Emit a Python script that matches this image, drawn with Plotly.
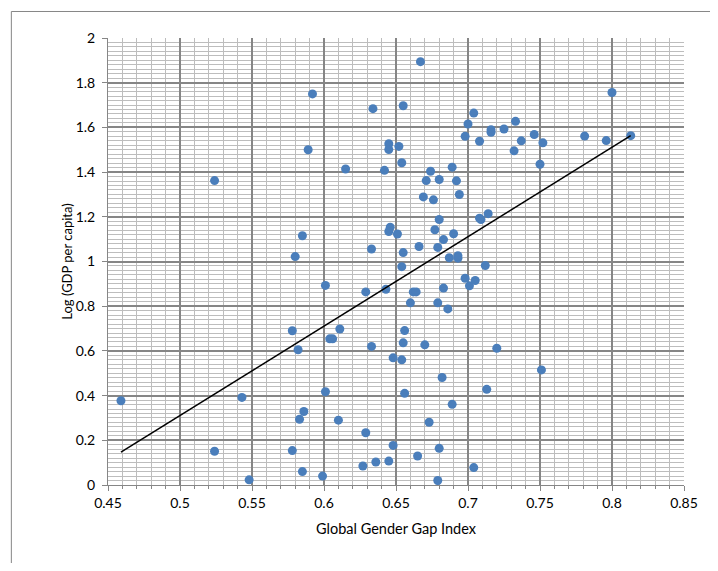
import plotly.graph_objects as go

gggi = [0.459, 0.524, 0.524, 0.543, 0.548, 0.578, 0.578, 0.580, 0.582, 0.583,
        0.585, 0.585, 0.586, 0.589, 0.592, 0.599, 0.601, 0.601, 0.604, 0.606,
        0.610, 0.611, 0.615, 0.627, 0.629, 0.629, 0.633, 0.633, 0.634, 0.636,
        0.642, 0.643, 0.645, 0.645, 0.645, 0.646, 0.645, 0.648, 0.648, 0.651,
        0.652, 0.654, 0.654, 0.655, 0.654, 0.655, 0.655, 0.656, 0.656, 0.660,
        0.662, 0.664, 0.665, 0.667, 0.666, 0.669, 0.671, 0.670, 0.673, 0.674,
        0.676, 0.677, 0.679, 0.679, 0.680, 0.680, 0.680, 0.679, 0.682, 0.683,
        0.683, 0.687, 0.686, 0.689, 0.689, 0.690, 0.692, 0.693, 0.693, 0.694,
        0.698, 0.698, 0.700, 0.701, 0.705, 0.704, 0.704, 0.708, 0.708, 0.709,
        0.712, 0.713, 0.714, 0.716, 0.716, 0.720, 0.725, 0.732, 0.733, 0.737,
        0.746, 0.750, 0.752, 0.751, 0.781, 0.796, 0.800, 0.813]

log_gdp = [0.377, 1.362, 0.151, 0.392, 0.023, 0.154, 0.690, 1.022, 0.605, 0.294,
           1.115, 0.060, 0.329, 1.500, 1.750, 0.040, 0.417, 0.893, 0.654, 0.654,
           0.290, 0.698, 1.414, 0.085, 0.864, 0.234, 1.056, 0.620, 1.684, 0.103,
           1.408, 0.876, 0.107, 1.527, 1.501, 1.153, 1.134, 0.569, 0.177, 1.123,
           1.515, 0.560, 1.442, 1.697, 0.977, 1.040, 0.636, 0.691, 0.410, 0.815,
           0.864, 0.864, 0.130, 1.894, 1.067, 1.289, 1.362, 0.627, 0.281, 1.404,
           1.276, 1.142, 0.815, 1.063, 1.367, 1.188, 0.164, 0.020, 0.481, 1.098,
           0.881, 1.017, 0.788, 1.422, 0.361, 1.124, 1.361, 1.015, 1.026, 1.300,
           0.925, 1.560, 1.615, 0.891, 0.915, 0.078, 1.664, 1.538, 1.194, 1.188,
           0.982, 0.428, 1.214, 1.590, 1.578, 0.612, 1.593, 1.495, 1.627, 1.540,
           1.568, 1.435, 1.531, 0.515, 1.561, 1.541, 1.756, 1.563]

trend_x = [0.459, 0.813]
trend_y = [0.147, 1.563]

x_ticks = [0.45, 0.5, 0.55, 0.6, 0.65, 0.7, 0.75, 0.8, 0.85]
x_tick_labels = ["0.45", "0.5", "0.55", "0.6", "0.65", "0.7", "0.75", "0.8", "0.85"]
y_ticks = [0, 0.2, 0.4, 0.6, 0.8, 1, 1.2, 1.4, 1.6, 1.8, 2]
y_tick_labels = ["0", "0.2", "0.4", "0.6", "0.8", "1", "1.2", "1.4", "1.6", "1.8", "2"]

FONT = "Lato, 'Open Sans', sans-serif"

fig = go.Figure()
fig.add_trace(go.Scatter(
    x=gggi, y=log_gdp, mode="markers",
    marker=dict(size=9, color="#4a7ebb", line=dict(width=0)),
    showlegend=False, hoverinfo="x+y"))
fig.add_trace(go.Scatter(
    x=trend_x, y=trend_y, mode="lines",
    line=dict(color="black", width=1.5),
    showlegend=False, hoverinfo="skip"))

major_col = "#868686"
minor_col = "#bdbdbd"

fig.update_xaxes(
    range=[0.45, 0.85], tickmode="array", tickvals=x_ticks, ticktext=x_tick_labels,
    showgrid=True, gridcolor=major_col, gridwidth=1.5,
    minor=dict(dtick=0.01, tick0=0.45, showgrid=True, gridcolor=minor_col, gridwidth=1,
               ticks="outside", ticklen=3, tickcolor=major_col),
    ticks="outside", ticklen=5, tickcolor=major_col,
    showline=True, linecolor=major_col, linewidth=1,
    zeroline=False,
    tickfont=dict(family=FONT, size=14, color="#000000"),
    title=dict(text="Global Gender Gap Index", font=dict(family=FONT, size=14.5, color="#000000"),
               standoff=14),
)
fig.update_yaxes(
    range=[0, 2], tickmode="array", tickvals=y_ticks, ticktext=y_tick_labels,
    showgrid=True, gridcolor=major_col, gridwidth=1.5,
    minor=dict(dtick=0.02, tick0=0, showgrid=True, gridcolor=minor_col, gridwidth=1),
    ticks="outside", ticklen=5, tickcolor=major_col,
    showline=True, linecolor=major_col, linewidth=1,
    zeroline=False, ticklabelstandoff=4,
    tickfont=dict(family=FONT, size=14, color="#000000"),
    title=dict(text="Log (GDP per capita)", font=dict(family=FONT, size=13, color="#000000"),
               standoff=0),
)

# chart-area frame (top and left edges; right and bottom lie outside the view)
fig.add_shape(type="line", xref="paper", yref="paper",
              x0=-0.1678, x1=1.3, y0=1.0593, y1=1.0593,
              line=dict(color="#868686", width=1), layer="below")
fig.add_shape(type="line", xref="paper", yref="paper",
              x0=-0.1678, x1=-0.1678, y0=-0.35, y1=1.0593,
              line=dict(color="#868686", width=1), layer="below")

fig.update_layout(
    width=702, height=555,
    margin=dict(l=100, r=24, t=30, b=78),
    paper_bgcolor="white", plot_bgcolor="white",
    font=dict(family=FONT, size=14, color="#000000"),
)

fig.write_html("out.html")
